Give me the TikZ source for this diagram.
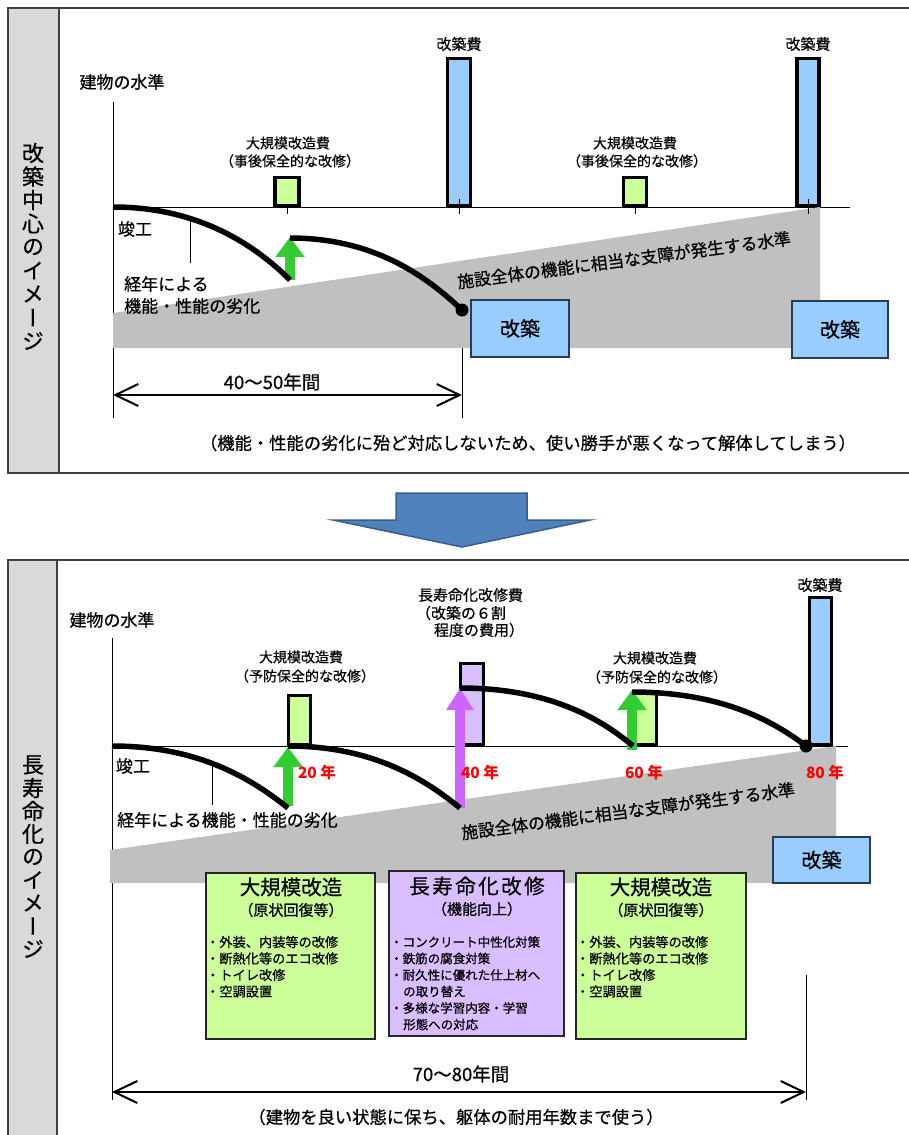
\documentclass[tikz,border=0pt]{standalone}
\usepackage{fontspec}
\setmainfont{Noto Sans CJK JP}[UprightFeatures={FakeBold=0.6}]
\newfontfamily\vjp{Noto Sans CJK JP}[RawFeature=+vert, UprightFeatures={FakeBold=0.6}]
\usetikzlibrary{arrows.meta}
\definecolor{lgreen}{RGB}{204,255,153}
\definecolor{lblue}{RGB}{153,204,255}
\definecolor{lpurple}{RGB}{217,191,255}
\definecolor{garrow}{RGB}{51,204,51}
\definecolor{parrow}{RGB}{204,102,255}
\definecolor{zone}{RGB}{192,192,192}
\definecolor{sidegray}{RGB}{217,217,217}
\definecolor{framec}{RGB}{64,64,64}
\definecolor{bigarrow}{RGB}{79,129,189}
\definecolor{bigarrowedge}{RGB}{56,93,138}
\definecolor{navyedge}{RGB}{40,60,90}
\newcommand\fsz[1]{\fontsize{#1}{#1}\selectfont}
\tikzset{
  txt/.style={inner sep=0pt, font=\fsz{17}},
  small/.style={inner sep=0pt, font=\fsz{14}},
  cost/.style={inner sep=0pt, font=\fsz{15}},
  yr/.style={inner sep=0pt, text=red, font=\fsz{15.5}\bfseries},
  side/.style={inner sep=0pt, font=\vjp\fsz{22}},
  bul/.style={inner sep=0pt, anchor=west, font=\fsz{13.2}},
  bulp/.style={inner sep=0pt, anchor=west, font=\fsz{12.5}},
  ttl/.style={inner sep=0pt, font=\fsz{20.5}},
  sub/.style={inner sep=0pt, font=\fsz{15}},
  span/.style={line width=2pt, {Straight Barb[length=23pt,width=22pt]}-{Straight Barb[length=23pt,width=22pt]}},
  barbox/.style={draw=black, line width=3.2pt, inner sep=0pt, outer sep=0pt, anchor=south},
  decay/.style={line width=5.5pt},
  thinl/.style={line width=1pt, draw=black},
  gup/.style={draw=garrow, line width=10pt, -{Triangle[length=20pt,width=28pt]}},
  pup/.style={draw=parrow, line width=10pt, -{Triangle[length=22pt,width=26pt]}},
  frame/.style={draw=framec, line width=1.6pt},
  rebuild/.style={draw=navyedge, fill=lblue, line width=1.2pt, inner sep=0pt, outer sep=0pt, font=\fsz{20}},
  infobox/.style={draw=black!85, line width=1.2pt, inner sep=0pt, outer sep=0pt, anchor=north west},
  dot/.style={circle, fill=black, inner sep=0pt, minimum size=13pt}
}
\begin{document}
\begin{tikzpicture}[x=1pt,y=-1pt]
\useasboundingbox (0,0) rectangle (909,1135);
\fill[white] (0,0) rectangle (909,1135);

% ---------- panel frames ----------
\fill[sidegray] (8,8) rectangle (59,473);
\draw[frame] (912,8) -- (8,8) -- (8,473) -- (912,473);
\draw[frame] (59,8) -- (59,473);
\fill[sidegray] (8,560) rectangle (57,1140);
\draw[frame] (912,560) -- (8,560) -- (8,1140);
\draw[frame] (57,560) -- (57,1140);

\foreach \c [count=\i from 0] in {改,築,中,心,の,イ,メ,ー,ジ}
  \node[side] (sa\i) at (33,153+23.5*\i) {\c};
\foreach \c [count=\i from 0] in {長,寿,命,化,の,イ,メ,ー,ジ}
  \node[side] (sb\i) at (33,765+23*\i) {\c};

% ---------- big arrow ----------
\draw[fill=bigarrow, draw=bigarrowedge, line width=1.5pt]
  (396,493) -- (527,493) -- (527,520) -- (590,520) -- (462,547) -- (333,520) -- (396,520) -- cycle;

% ================= TOP PANEL =================
\coordinate (ya) at (113,102); \coordinate (yb) at (113,418);
\draw[thinl] (ya) -- (yb);
\coordinate (rl1) at (462,310); \coordinate (rl2) at (462,418);
\draw[thinl] (rl1) -- (rl2);
\coordinate (b0) at (113,207); \coordinate (b1) at (850,207);
\draw[thinl] (b0) -- (b1);
\fill[zone] (113,313) -- (820,207) -- (820,348) -- (113,348) -- cycle;

\node[barbox, fill=lgreen, minimum width=24pt, minimum height=28pt] (g1) at (287,205.5) {};
\node[barbox, fill=lblue, minimum width=23pt, minimum height=147pt] (k1) at (459,205.5) {};
\node[barbox, fill=lgreen, minimum width=23pt, minimum height=28pt] (g2) at (635,205.5) {};
\node[barbox, fill=lblue, minimum width=22pt, minimum height=147pt] (k2) at (808,205.5) {};
\foreach \x/\t in {287/207,459/199,635/207,808/199}
  \draw[thinl] (\x,\t) -- (\x,214);

\coordinate (ga0) at (290,280); \coordinate (ga1) at (290,237);
\draw[gup] (ga0) -- (ga1);
\coordinate (lend) at (0,263);
\draw[decay] (b0) .. controls (195,207) and (252,242) .. (ga0) coordinate[pos=0.35] (lead1);
\draw[thinl] (lead1) -- (lead1 |- lend);
\coordinate (c2s) at (290,238);
\draw[decay] (c2s) .. controls (376,238) and (428,278) .. (rl1);
\node[dot] (d1) at (rl1) {};

\coordinate (s1a) at (113,395); \coordinate (s1b) at (462,395);
\draw[span] (s1a) -- (s1b);

\node[rebuild, minimum width=98pt, minimum height=57pt] (r1) at (520,328.5) {改築};
\node[rebuild, minimum width=96pt, minimum height=57pt] (r2) at (840,329.5) {改築};

\node[txt] (lv1) at (122,82) {建物の水準};
\node[cost] (kc1) at (459,44) {改築費};
\node[cost] (kc2) at (808,44) {改築費};
\node[small] (gc1) at (288,143) {大規模改造費};
\node[small] (gs1) at (290,161) {（事後保全的な改修）};
\node[small] (gc2) at (635,143) {大規模改造費};
\node[small] (gs2) at (637,161) {（事後保全的な改修）};
\node[txt] (sk1) at (135,229) {竣工};
\node[txt, anchor=west] (ky1) at (124,284) {経年による};
\node[txt, anchor=west] (ky2) at (124,306) {機能・性能の劣化};
\node[txt, font=\fsz{16.8}, rotate=7.5] (lim1) at (624,260) {施設全体の機能に相当な支障が発生する水準};
\node[txt, font=\fsz{18.5}] (p1) at (272,382) {40～50年間};
\node[txt, font=\fsz{17.3}] (n1) at (528,443) {（機能・性能の劣化に殆ど対応しないため、使い勝手が悪くなって解体してしまう）};

% ================= BOTTOM PANEL =================
\coordinate (ya2) at (112,638); \coordinate (yb2) at (112,1100);
\draw[thinl] (ya2) -- (yb2);
\coordinate (rr1) at (806,975); \coordinate (rr2) at (806,1100);
\draw[thinl] (rr1) -- (rr2);
\coordinate (c0) at (112,746); \coordinate (c1) at (848,746);
\draw[thinl] (c0) -- (c1);
\fill[zone] (110,850) -- (836,746) -- (836,883) -- (110,883) -- cycle;

\node[barbox, fill=lgreen, minimum width=22pt, minimum height=49pt] (g3) at (299.5,744.5) {};
\node[barbox, fill=lpurple, minimum width=23pt, minimum height=81pt] (p3) at (472,744.5) {};
\node[barbox, fill=lgreen, minimum width=23pt, minimum height=51pt] (g4) at (645,744.5) {};
\node[barbox, fill=lblue, minimum width=22pt, minimum height=147pt] (k3) at (820.5,744.5) {};

\coordinate (a1s) at (288,806); \coordinate (a1e) at (288,747);
\draw[gup] (a1s) -- (a1e);
\coordinate (a2s) at (460,808); \coordinate (a2e) at (460,688);
\draw[pup] (a2s) -- (a2e);
\coordinate (a3s) at (632,750); \coordinate (a3e) at (632,690);
\draw[gup] (a3s) -- (a3e);

\coordinate (cA) at (288,808);
\coordinate (lend2) at (0,805);
\draw[decay] (c0) .. controls (200,746) and (253,780) .. (cA) coordinate[pos=0.46] (lead2);
\draw[thinl] (lead2) -- (lead2 |- lend2);
\coordinate (cBs) at (288,746);
\draw[decay] (cBs) .. controls (376,746) and (428,782) .. (a2s);
\draw[decay] (a2e) .. controls (548,688) and (600,718) .. (633,746);
\coordinate (cDs) at (632,692); \coordinate (cDe) at (806,746);
\draw[decay] (cDs) .. controls (720,692) and (772,720) .. (cDe);
\node[dot] (d2) at (cDe) {};

\coordinate (s2a) at (112,1092); \coordinate (s2b) at (806,1092);
\draw[span] (s2a) -- (s2b);

\node[rebuild, minimum width=97pt, minimum height=46pt] (r3) at (821.5,860) {改築};

% info boxes
\node[infobox, fill=lgreen, minimum width=169pt, minimum height=166pt] (ib1) at (206,873) {};
\node[infobox, fill=lpurple, minimum width=175pt, minimum height=165pt] (ib2) at (389,871) {};
\node[infobox, fill=lgreen, minimum width=170pt, minimum height=166pt] (ib3) at (576,873) {};

\node[ttl] (t1) at (291,887) {大規模改造};
\node[sub] (u1) at (291,910) {（原状回復等）};
\node[bul] (b1a) at (206,942) {・外装、内装等の改修};
\node[bul] (b1b) at (206,958.5) {・断熱化等のエコ改修};
\node[bul] (b1c) at (206,975) {・トイレ改修};
\node[bul] (b1d) at (206,991.5) {・空調設置};

\node[ttl, font=\fsz{20.5}\addfontfeature{LetterSpace=12}] (t2) at (477,886) {長寿命化改修};
\node[sub] (u2) at (477,909) {（機能向上）};
\node[bulp] (b2a) at (390,942) {・コンクリート中性化対策};
\node[bulp] (b2b) at (390,958.5) {・鉄筋の腐食対策};
\node[bulp] (b2c) at (390,975) {・耐久性に優れた仕上材へ};
\node[bulp] (b2d) at (403,991.5) {の取り替え};
\node[bulp] (b2e) at (390,1008) {・多様な学習内容・学習};
\node[bulp] (b2f) at (403,1024.5) {形態への対応};

\node[ttl] (t3) at (661,887) {大規模改造};
\node[sub] (u3) at (661,910) {（原状回復等）};
\node[bul] (b3a) at (576,942) {・外装、内装等の改修};
\node[bul] (b3b) at (576,958.5) {・断熱化等のエコ改修};
\node[bul] (b3c) at (576,975) {・トイレ改修};
\node[bul] (b3d) at (576,991.5) {・空調設置};

% labels
\node[txt] (lv2) at (112,620) {建物の水準};
\node[small] (gc3) at (301,657) {大規模改造費};
\node[small] (gs3) at (305,676) {（予防保全的な改修）};
\node[small] (gc4) at (655,658) {大規模改造費};
\node[small] (gs4) at (657,677) {（予防保全的な改修）};
\node[cost] (lc1) at (470.5,595) {長寿命化改修費};
\node[cost] (lc2) at (461,613) {（改築の６割};
\node[cost] (lc3) at (479,630) {程度の費用）};
\node[cost] (kc3) at (820,585) {改築費};
\node[yr] (y20) at (317,773) {20 年};
\node[yr] (y40) at (480,773) {40 年};
\node[yr] (y60) at (644,773) {60 年};
\node[yr] (y80) at (825,773) {80 年};
\node[txt] (sk2) at (133,766) {竣工};
\node[txt, anchor=west] (ky3) at (117,820) {経年による機能・性能の劣化};
\node[txt, font=\fsz{16.8}, rotate=7.5] (lim2) at (628,811) {施設全体の機能に相当な支障が発生する水準};
\node[txt, font=\fsz{18.5}] (p2) at (461,1074) {70～80年間};
\node[txt, font=\fsz{17.3}] (n2) at (456,1117) {（建物を良い状態に保ち、躯体の耐用年数まで使う）};
\end{tikzpicture}
\end{document}
